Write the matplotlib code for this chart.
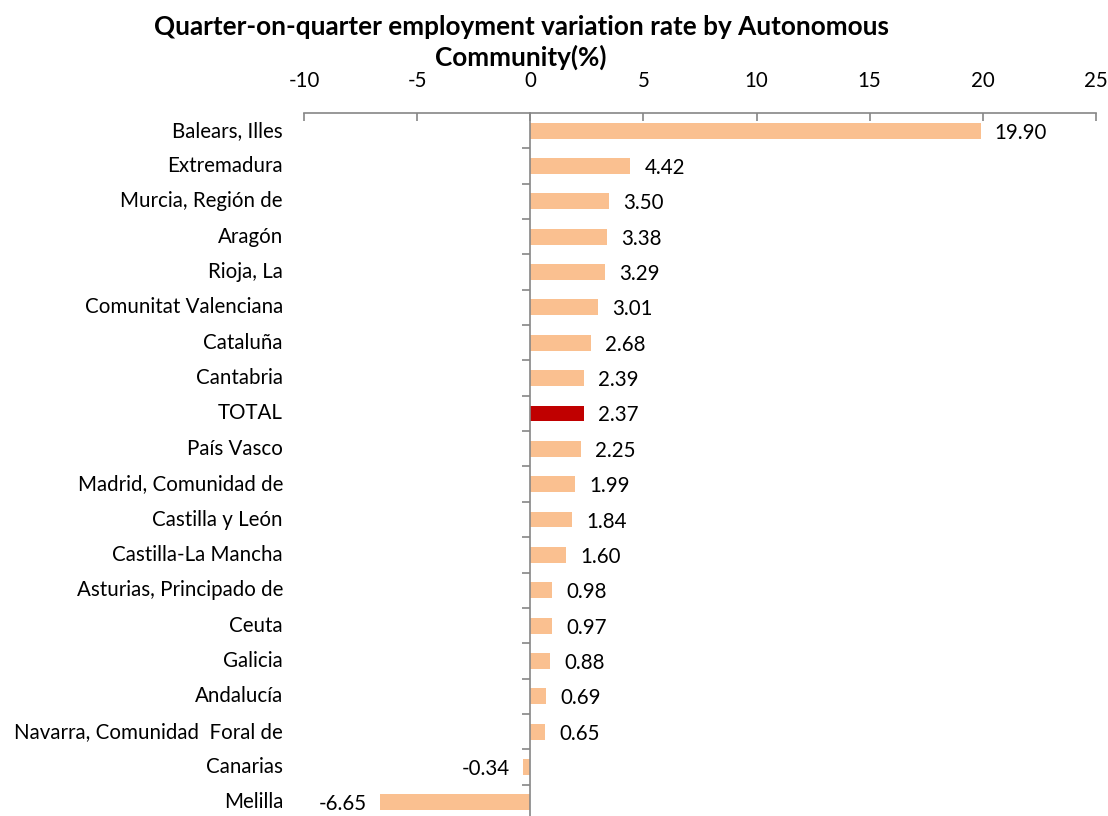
import matplotlib
matplotlib.use("Agg")
import matplotlib.pyplot as plt
import matplotlib.transforms as mtransforms
from matplotlib.ticker import FixedLocator

regions = ["Balears, Illes", "Extremadura", "Murcia, Región de", "Aragón", "Rioja, La",
           "Comunitat Valenciana", "Cataluña", "Cantabria", "TOTAL", "País Vasco",
           "Madrid, Comunidad de", "Castilla y León", "Castilla-La Mancha",
           "Asturias, Principado de", "Ceuta", "Galicia", "Andalucía",
           "Navarra, Comunidad  Foral de", "Canarias", "Melilla"]
rates = [19.90, 4.42, 3.50, 3.38, 3.29, 3.01, 2.68, 2.39, 2.37, 2.25,
         1.99, 1.84, 1.60, 0.98, 0.97, 0.88, 0.69, 0.65, -0.34, -6.65]
xticks = [-10, -5, 0, 5, 10, 15, 20, 25]

plt.rcParams['font.family'] = ['Lato', 'DejaVu Sans']
fs = 14.8

W, H = 1108, 816
fig = plt.figure(figsize=(W / 100, H / 100), dpi=100)
ax = fig.add_axes([304 / W, (H - 820) / H, (1096 - 304) / W, (820 - 113) / H])

n = len(regions)
ypos = list(range(n))
colors = ['#C00000' if r == 'TOTAL' else '#FAC090' for r in regions]
ax.barh(ypos, rates, height=0.45, color=colors)

ax.set_xlim(-10, 25)
ax.set_ylim(n - 0.5, -0.5)

gray = '#868686'
for s in ['right', 'bottom']:
    ax.spines[s].set_visible(False)
ax.spines['left'].set_position(('data', 0))
ax.spines['left'].set_color(gray)
ax.spines['top'].set_color(gray)
ax.spines['left'].set_linewidth(1.2)
ax.spines['top'].set_linewidth(1.2)

ax.xaxis.tick_top()
ax.set_xticks(xticks)
ax.set_xticklabels([str(t) for t in xticks])
ax.tick_params(axis='x', direction='in', length=6, color=gray, width=1.2,
               labelsize=fs, pad=16)

ax.set_yticks([])
ax.yaxis.set_minor_locator(FixedLocator([i + 0.5 for i in range(n)]))
ax.tick_params(axis='y', which='minor', direction='out', length=6, color=gray, width=1.2)

trans = mtransforms.blended_transform_factory(ax.transAxes, ax.transData)
for y, r in zip(ypos, regions):
    ax.text(-21 / (1096 - 304), y, r, transform=trans, ha='right', va='center', fontsize=fs)

off = mtransforms.offset_copy
for y, v in zip(ypos, rates):
    if v >= 0:
        t = off(ax.transData, fig=fig, x=14, y=-2, units='dots')
        ax.text(v, y, f"{v:.2f}", transform=t, ha='left', va='center', fontsize=fs)
    else:
        t = off(ax.transData, fig=fig, x=-13, y=-2, units='dots')
        ax.text(v, y, f"{v:.2f}", transform=t, ha='right', va='center', fontsize=fs)

fig.text(521 / W, 1 - 27 / H, "Quarter-on-quarter employment variation rate by Autonomous",
         ha='center', va='center', fontsize=18.8, fontweight='bold')
fig.text(521 / W, 1 - 57 / H, "Community(%)",
         ha='center', va='center', fontsize=18.8, fontweight='bold')

fig.savefig("out.png", dpi=100)
